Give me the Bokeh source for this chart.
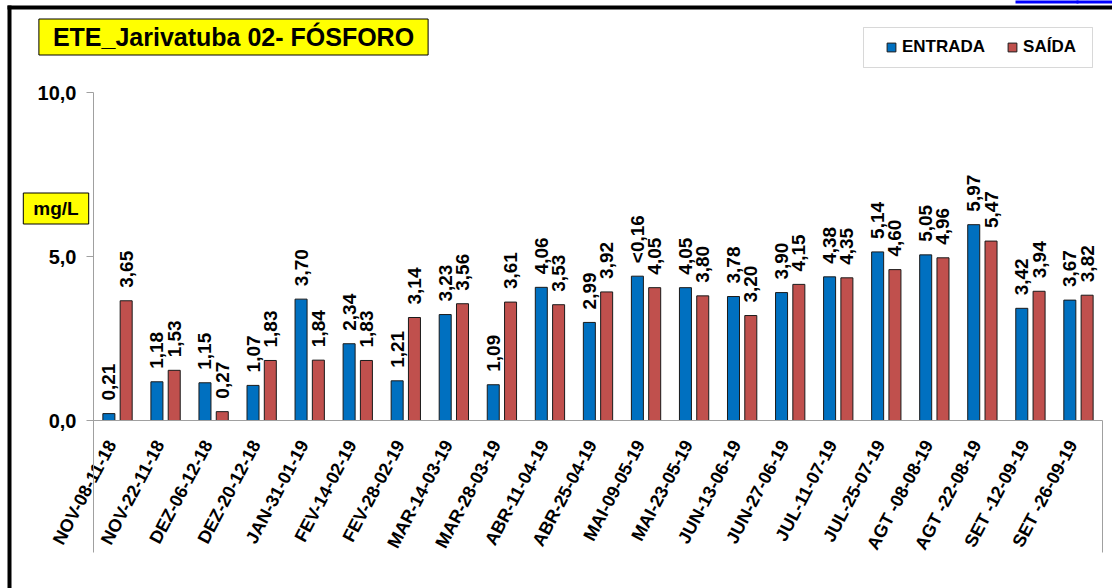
from math import pi, radians
from bokeh.plotting import figure
from bokeh.models import (ColumnDataSource, Range1d, FixedTicker, Label, LinearAxis,
                          Legend, LegendItem, BoxAnnotation)
from bokeh.transform import dodge
from bokeh.core.properties import value
from bokeh.embed import file_html
from bokeh.resources import INLINE

# ---------------- data ----------------
categories = ["NOV-08-11-18", "NOV-22-11-18", "DEZ-06-12-18", "DEZ-20-12-18",
              "JAN-31-01-19", "FEV-14-02-19", "FEV-28-02-19", "MAR-14-03-19",
              "MAR-28-03-19", "ABR-11-04-19", "ABR-25-04-19", "MAI-09-05-19",
              "MAI-23-05-19", "JUN-13-06-19", "JUN-27-06-19", "JUL-11-07-19",
              "JUL-25-07-19", "AGT -08-08-19", "AGT -22-08-19", "SET -12-09-19",
              "SET -26-09-19"]
entrada = [0.21, 1.18, 1.15, 1.07, 3.70, 2.34, 1.21, 3.23, 1.09, 4.06, 2.99,
           4.40, 4.05, 3.78, 3.90, 4.38, 5.14, 5.05, 5.97, 3.42, 3.67]
saida = [3.65, 1.53, 0.27, 1.83, 1.84, 1.83, 3.14, 3.56, 3.61, 3.53, 3.92,
         4.05, 3.80, 3.20, 4.15, 4.35, 4.60, 4.96, 5.47, 3.94, 3.82]
entrada_labels = ["0,21", "1,18", "1,15", "1,07", "3,70", "2,34", "1,21", "3,23",
                  "1,09", "4,06", "2,99", "<0,16", "4,05", "3,78", "3,90", "4,38",
                  "5,14", "5,05", "5,97", "3,42", "3,67"]
saida_labels = ["3,65", "1,53", "0,27", "1,83", "1,84", "1,83", "3,14", "3,56",
                "3,61", "3,53", "3,92", "4,05", "3,80", "3,20", "4,15", "4,35",
                "4,60", "4,96", "5,47", "3,94", "3,82"]
series_names = ["ENTRADA", "SAÍDA"]
y_ticks = [0, 5, 10]
y_tick_labels = ["0,0", "5,0", "10,0"]
title_text = "ETE_Jarivatuba 02- FÓSFORO"
unit_text = "mg/L"

# ---------------- style / layout ----------------
BLUE = "#0070C0"
RED = "#C0504D"
FONT = "Liberation Sans"
AXIS_GRAY = "#A0A0A0"
W, H = 1112, 588
PLOT_L, PLOT_R = 93, 1102      # plot area in canvas pixels
Y0_PX, Y10_PX, AX_BOTTOM_PX = 420, 92, 552
LABEL_SHIFT = -0.12            # category labels sit slightly left of the slot centre

n = len(categories)
positions = list(range(n))
cw = (PLOT_R - PLOT_L) / n                 # px per category
ppu = (Y0_PX - Y10_PX) / 10.0              # px per y unit
x_start = -0.5 - PLOT_L / cw
x_end = x_start + W / cw
y_end = Y0_PX / ppu
y_start = y_end - H / ppu
axis_low = -(AX_BOTTOM_PX - Y0_PX) / ppu


def sy(cy):
    return H - cy


src = ColumnDataSource(dict(x=positions, cat=categories, entrada=entrada, saida=saida,
                            etxt=entrada_labels, stxt=saida_labels))

p = figure(width=W, height=H, x_range=Range1d(x_start, x_end), y_range=Range1d(y_start, y_end),
           x_axis_location=None, y_axis_location=None,
           output_backend="svg", toolbar_location=None,
           min_border_left=0, min_border_right=0, min_border_top=0, min_border_bottom=0)
p.outline_line_color = None
p.background_fill_color = "white"
p.border_fill_color = "white"
p.grid.visible = False

# outer black frame + clipped hyperlink underline
for l, r, t, b, c in [(7, 11, 5, 600, "black"), (7, 1120, 5, 9, "black"),
                      (1015, 1120, -2, 3, "#0000FF"), (1076, 1078, -2, 3, "#0000FF")]:
    p.add_layout(BoxAnnotation(left=l, right=r, top=sy(t), bottom=sy(b),
                               left_units="screen", right_units="screen",
                               top_units="screen", bottom_units="screen",
                               fill_color=c, fill_alpha=1, line_color=None))

# bars
p.vbar(x=dodge("x", -0.18), top="entrada", bottom=0, width=0.25,
       fill_color=BLUE, line_color="#1A1A1A", line_width=1, source=src)
p.vbar(x=dodge("x", 0.18), top="saida", bottom=0, width=0.25,
       fill_color=RED, line_color="#1A1A1A", line_width=1, source=src)

# value labels
for off, col, txt in [(-0.18, "entrada", "etxt"), (0.18, "saida", "stxt")]:
    p.text(x=dodge("x", off), y=col, text=txt, angle=pi / 2,
           text_align="left", text_baseline="middle", y_offset=-13,
           text_font=value(FONT), text_font_style="bold", text_font_size="19px",
           text_color="black", source=src)

# right border line below the axis
edge = ColumnDataSource(dict(x=[n - 0.5], y0=[0], y1=[axis_low]))
p.segment(x0="x", x1="x", y0="y0", y1="y1", line_color=AXIS_GRAY, line_width=1, source=edge)

# x axis at zero
tick_pos = [i + LABEL_SHIFT for i in positions]
xa = LinearAxis(fixed_location=0, bounds=(-0.5, n - 0.5),
                ticker=FixedTicker(ticks=tick_pos),
                major_label_overrides={t: c for t, c in zip(tick_pos, categories)})
xa.axis_line_color = AXIS_GRAY
xa.major_tick_line_color = None
xa.minor_tick_line_color = None
xa.major_label_orientation = radians(62)
xa.major_label_standoff = 15
xa.major_label_text_font = FONT
xa.major_label_text_font_style = "bold"
xa.major_label_text_font_size = "18px"
xa.major_label_text_color = "black"
p.add_layout(xa, "below")

# y axis
ya = LinearAxis(fixed_location=-0.5, bounds=(axis_low, 10), ticker=FixedTicker(ticks=y_ticks),
                major_label_overrides={t: l for t, l in zip(y_ticks, y_tick_labels)})
ya.axis_line_color = AXIS_GRAY
ya.major_tick_line_color = AXIS_GRAY
ya.major_tick_out = 7
ya.major_tick_in = 0
ya.minor_tick_line_color = None
ya.major_label_standoff = 10
ya.major_label_text_font = FONT
ya.major_label_text_font_style = "bold"
ya.major_label_text_font_size = "20px"
ya.major_label_text_color = "black"
p.add_layout(ya, "left")

# legend box
p.add_layout(BoxAnnotation(left=863, right=1092, top=sy(27), bottom=sy(67),
                           left_units="screen", right_units="screen",
                           top_units="screen", bottom_units="screen",
                           fill_color="white", fill_alpha=1, line_color="#7F7F7F",
                           line_width=1))

# legend swatches: zero-size square markers on the bar tops (only the legend shows them)
r1 = p.scatter(x=dodge("x", -0.18), y="entrada", marker="square", size=0, fill_color=BLUE,
               line_color="#1A1A1A", line_alpha=1, source=src)
r2 = p.scatter(x=dodge("x", 0.18), y="saida", marker="square", size=0, fill_color=RED,
               line_color="#1A1A1A", line_alpha=1, source=src)
legend = Legend(items=[LegendItem(label=series_names[0], renderers=[r1]),
                       LegendItem(label=series_names[1], renderers=[r2])],
                orientation="horizontal", location=(880, sy(58)), padding=0,
                spacing=16, glyph_width=22, glyph_height=22, label_standoff=0,
                label_height=22, label_text_font=FONT, label_text_font_style="bold",
                label_text_font_size="17px", label_text_color="black",
                border_line_color=None, background_fill_alpha=0)
p.add_layout(legend, "center")

# title box
p.add_layout(Label(x=233, y=sy(36.5), x_units="screen", y_units="screen",
                   text=title_text, text_align="center", text_baseline="middle",
                   text_font=FONT, text_font_style="bold", text_font_size="25px",
                   text_color="black", background_fill_color="#FFFF00",
                   border_line_color="black", border_line_width=1,
                   padding=dict(left=14, right=14, top=4, bottom=4)))

# unit box
p.add_layout(Label(x=55.5, y=sy(208), x_units="screen", y_units="screen",
                   text=unit_text, text_align="center", text_baseline="middle",
                   text_font=FONT, text_font_style="bold", text_font_size="19px",
                   text_color="black", background_fill_color="#FFFF00",
                   border_line_color="black", border_line_width=1,
                   padding=dict(left=10, right=10, top=5, bottom=5)))

open("out.html", "w").write(file_html(p, INLINE))
